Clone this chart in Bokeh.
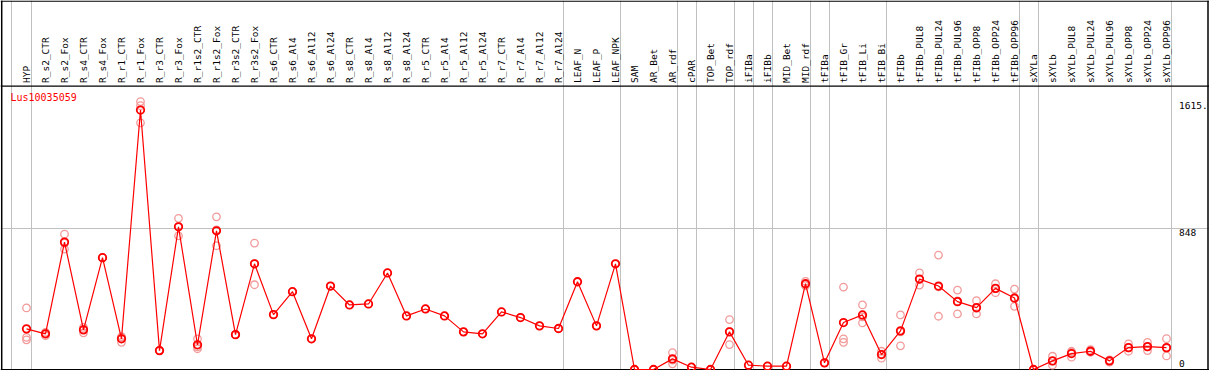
import math
from bokeh.plotting import figure
from bokeh.models import Range1d, Grid, FixedTicker, Span, Label
from bokeh.core.properties import value
from bokeh.embed import file_html
from bokeh.resources import INLINE

title = "Lus10035059"

categories = [
    "HYP",
    "R_s2_CTR", "R_s2_Fox", "R_s4_CTR", "R_s4_Fox", "R_r1_CTR", "R_r1_Fox",
    "R_r3_CTR", "R_r3_Fox", "R_r1s2_CTR", "R_r1s2_Fox", "R_r3s2_CTR", "R_r3s2_Fox",
    "R_s6_CTR", "R_s6_Al4", "R_s6_Al12", "R_s6_Al24",
    "R_s8_CTR", "R_s8_Al4", "R_s8_Al12", "R_s8_Al24",
    "R_r5_CTR", "R_r5_Al4", "R_r5_Al12", "R_r5_Al24",
    "R_r7_CTR", "R_r7_Al4", "R_r7_Al12", "R_r7_Al24",
    "LEAF_N", "LEAF_P", "LEAF_NPK",
    "SAM", "AR_Bet", "AR_rdf", "cPAR", "TOP_Bet", "TOP_rdf",
    "iFIBa", "iFIBb", "MID_Bet", "MID_rdf",
    "tFIBa", "tFIB_Gr", "tFIB_Li", "tFIB_Bi",
    "tFIBb", "tFIBb_PUL8", "tFIBb_PUL24", "tFIBb_PUL96",
    "tFIBb_OPP8", "tFIBb_OPP24", "tFIBb_OPP96",
    "sXYLa", "sXYLb", "sXYLb_PUL8", "sXYLb_PUL24", "sXYLb_PUL96",
    "sXYLb_OPP8", "sXYLb_OPP24", "sXYLb_OPP96",
]

means = [
    245,
    215, 768, 239, 674, 185, 1564,
    114, 860, 149, 836, 210, 637,
    331, 469, 185, 503,
    389, 395, 582, 323,
    365, 323, 227, 215,
    347, 313, 263, 247,
    529, 263, 637,
    0, 0, 64, 14, 0, 227,
    26, 20, 20, 517,
    40, 283, 329, 90,
    233, 545, 503, 409,
    373, 489, 431,
    0, 52, 96, 110, 52,
    132, 138, 132,
]

replicates = [
    [371, 194, 179],
    [224, 204, 217], [816, 726, 762], [254, 221, 242], [674, 674, 674], [198, 164, 193], [1615, 1487, 1590],
    [114, 114, 114], [911, 806, 863], [185, 125, 137], [920, 746, 842], [210, 210, 210], [762, 511, 638],
    [331], [469], [185], [503],
    [389], [395], [582], [323],
    [365], [323], [227], [215],
    [347], [313], [263], [247],
    [529], [263], [637],
    [0], [0], [102, 34, 56], [14], [0], [301, 150, 230],
    [26], [20], [20], [531, 505, 515],
    [40], [497, 185, 164], [389, 281, 317], [110, 68, 92],
    [329, 143, 227], [583, 509, 543], [690, 321, 498], [479, 335, 413],
    [415, 335, 369], [517, 463, 487], [485, 381, 427],
    [0], [80, 26, 50], [110, 74, 104], [120, 104, 106], [58, 44, 54],
    [155, 110, 131], [164, 114, 136], [186, 82, 128],
]

# last category index of each group (vertical separators drawn right after these)
group_ends = [0, 28, 31, 34, 35, 37, 38, 39, 41, 42, 45, 52, 53, 60]

tick_values = [1615, 848, 0]
tick_labels = ["1615.", "848", "0"]

# ---- layout (reference pixel geometry) ----
X0, DX = 26.0, 19.0          # screen x of first category, spacing
Y0, SY = 369.0, 0.1659       # screen y of value 0, px per unit
W, H = 1209, 370


def vx(X):
    return (X - X0) / DX


def vy(Y):
    return (Y0 - Y) / SY


p = figure(
    width=W, height=H,
    x_range=Range1d(vx(0), vx(W)),
    y_range=Range1d(vy(H), vy(0)),
    output_backend="svg", toolbar_location=None,
    x_axis_type=None, y_axis_type=None,
    min_border=0, min_border_left=0, min_border_right=0,
    min_border_top=0, min_border_bottom=0,
)
p.outline_line_color = None
p.background_fill_color = "white"
p.border_fill_color = "white"

idx = list(range(len(categories)))

# vertical separators
seps = [vx(11.0)] + [e + 0.25 for e in group_ends]
p.add_layout(Grid(dimension=0, ticker=FixedTicker(ticks=seps),
                  grid_line_color="#c0c0c0", grid_line_width=1), "center")
# horizontal grid line at mid tick
p.add_layout(Grid(dimension=1, ticker=FixedTicker(ticks=[tick_values[1]]),
                  grid_line_color="#c0c0c0", grid_line_width=1), "center")

# header separator and frame borders
p.add_layout(Span(location=vy(85.7), dimension="width", line_color="black",
                  line_width=1.2, level="underlay"))
p.add_layout(Span(location=vy(369.3), dimension="width", line_color="black",
                  line_width=1.5, level="underlay"))
p.add_layout(Span(location=vy(0.6), dimension="width", line_color="black",
                  line_width=1.2, level="underlay"))
p.add_layout(Span(location=vx(1207.5), dimension="height", line_color="black",
                  line_width=1.5, level="underlay"))
p.add_layout(Span(location=vx(1.2), dimension="height", line_color="black",
                  line_width=1.5, level="underlay"))

mono = value("DejaVu Sans Mono")

# rotated category labels
p.text(x=idx, y=[vy(82.5)] * len(idx), text=categories, angle=math.pi / 2,
       text_align="left", text_baseline="middle", text_font=mono,
       text_font_size="9.5px", text_color="black")

# replicates
rx = [i for i, r in zip(idx, replicates) for _ in r]
ry = [v for r in replicates for v in r]
p.scatter(rx, ry, size=7.5, marker="circle", fill_color=None,
          line_color="#f29a9a", line_width=1.3)

# mean line and markers
p.line(idx, means, line_color="#ff0000", line_width=1.2)
p.scatter(idx, means, size=7.5, marker="circle", fill_color=None,
          line_color="#ff0000", line_width=1.8)

# right-side value labels
p.text(x=[vx(1178.5)] * 2, y=tick_values[:2], text=tick_labels[:2],
       text_align="left", text_baseline="top", text_font=mono,
       text_font_size="9.5px", text_color="black")
p.text(x=[vx(1178.5)], y=tick_values[2:], text=tick_labels[2:],
       text_align="left", text_baseline="bottom", y_offset=-3,
       text_font=mono, text_font_size="9.5px", text_color="black")

# title
p.add_layout(Label(x=vx(10.0), y=vy(97.0), text=title, text_align="left",
                   text_baseline="middle", text_font="DejaVu Sans Mono",
                   text_font_size="10px", text_color="#ff0000"))

open("out.html", "w").write(file_html(p, INLINE))
